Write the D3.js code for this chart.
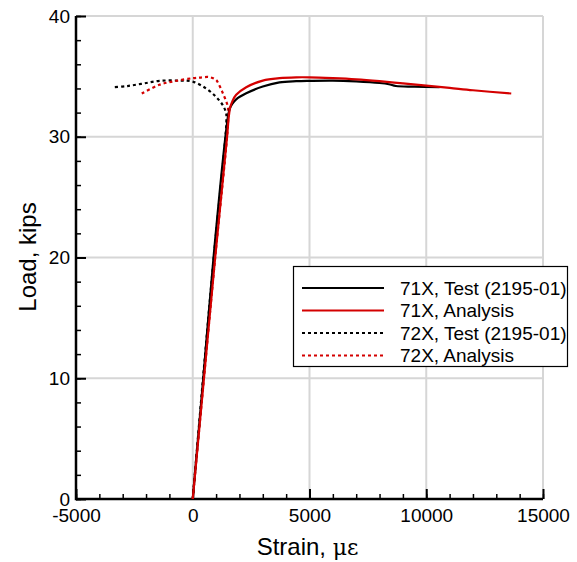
<!DOCTYPE html>
<html><head><meta charset="utf-8">
<script src="https://cdn.jsdelivr.net/npm/d3@7"></script>
<style>body{margin:0;background:#fff}svg{display:block}text{font-family:"Liberation Sans",Arial,sans-serif}</style>
</head><body>
<svg id="c" width="577" height="562"></svg>
<script>
const xTicks = [-5000, 0, 5000, 10000, 15000];
const yTicks = [0, 10, 20, 30, 40];
const seriesNames = ["71X, Test (2195-01)", "71X, Analysis", "72X, Test (2195-01)", "72X, Analysis"];
const test71Strain = [0, 450, 890, 1400, 1530, 1600, 1700, 1860, 2290, 3000, 3714, 4430, 5000, 6000, 7000, 8000, 8400, 8700, 9500, 10570];
const test71Load   = [0, 10, 20, 30, 31.9, 32.4, 32.75, 33.1, 33.6, 34.16, 34.5, 34.6, 34.63, 34.65, 34.58, 34.45, 34.35, 34.2, 34.15, 34.1];
const ana71Strain = [0, 480, 960, 1470, 1540, 1600, 1700, 1860, 2290, 3000, 3714, 4430, 5000, 6000, 7000, 8000, 9000, 10000, 11000, 12000, 13640];
const ana71Load   = [0, 10, 20, 30, 31.6, 32.4, 32.95, 33.47, 34.1, 34.65, 34.85, 34.92, 34.92, 34.85, 34.75, 34.6, 34.42, 34.24, 34.05, 33.85, 33.58];
const test72Strain = [0, 440, 900, 1400, 1440, 1430, 1290, 1000, 570, 0, -570, -1430, -2140, -2800, -3355];
const test72Load   = [0, 10, 20, 30, 31.3, 31.95, 32.6, 33.3, 34.0, 34.57, 34.65, 34.63, 34.4, 34.2, 34.1];
const ana72Strain = [0, 480, 960, 1470, 1520, 1500, 1290, 1100, 1000, 710, 300, 0, -710, -1430, -2210];
const ana72Load   = [0, 10, 20, 30, 31.6, 32.5, 33.6, 34.4, 34.7, 34.94, 34.9, 34.85, 34.63, 34.3, 33.55];

const W = 577, H = 562, m = {l: 76, r: 34, t: 16, b: 63};
const svg = d3.select("#c");
const x = d3.scaleLinear().domain([-5000, 15000]).range([m.l, W - m.r]);
const y = d3.scaleLinear().domain([0, 40]).range([H - m.b, m.t]);

// grid
const g = svg.append("g");
g.selectAll(".gx").data(xTicks.slice(1)).join("line")
  .attr("x1", d => x(d)).attr("x2", d => x(d)).attr("y1", y(0)).attr("y2", y(40))
  .attr("stroke", "#d6d6d6").attr("stroke-width", 2);
g.selectAll(".gy").data(yTicks.slice(1)).join("line")
  .attr("y1", d => y(d)).attr("y2", d => y(d)).attr("x1", x(-5000)).attr("x2", x(15000))
  .attr("stroke", "#d6d6d6").attr("stroke-width", 2);

// axes (ticks inward)
const fmt = d => String(d);
const xMinor = d3.range(-5000, 15001, 1000);
const yMinor = d3.range(0, 40.01, 2);
const ax = svg.append("g").attr("transform", `translate(0,${y(0)})`)
  .call(d3.axisBottom(x).tickValues(xMinor).tickSize(-5).tickFormat(""));
ax.select(".domain").remove();
ax.selectAll("line").attr("stroke-width", 1.5);
const ax2 = svg.append("g").attr("transform", `translate(0,${y(0)})`)
  .call(d3.axisBottom(x).tickValues(xTicks).tickSize(-10).tickPadding(10).tickFormat(fmt));
ax2.select(".domain").remove();
ax2.selectAll("line").attr("stroke-width", 2);
ax2.selectAll("text").attr("font-size", 19).attr("fill", "#000").attr("font-family", "Liberation Sans, Arial, sans-serif");
const ay = svg.append("g").attr("transform", `translate(${x(-5000)},0)`)
  .call(d3.axisLeft(y).tickValues(yMinor).tickSize(-5).tickFormat(""));
ay.select(".domain").remove();
ay.selectAll("line").attr("stroke-width", 1.5);
const ay2 = svg.append("g").attr("transform", `translate(${x(-5000)},0)`)
  .call(d3.axisLeft(y).tickValues(yTicks).tickSize(-10).tickPadding(6).tickFormat(fmt));
ay2.select(".domain").remove();
ay2.selectAll("line").attr("stroke-width", 2);
ay2.selectAll("text").attr("font-size", 19).attr("fill", "#000").attr("font-family", "Liberation Sans, Arial, sans-serif");

svg.append("line").attr("x1", x(-5000)).attr("x2", x(15000)).attr("y1", y(0)).attr("y2", y(0)).attr("stroke", "#000").attr("stroke-width", 2.5);
svg.append("line").attr("x1", x(-5000)).attr("x2", x(-5000)).attr("y1", y(0)+1.25).attr("y2", y(40)).attr("stroke", "#000").attr("stroke-width", 2.5);

// series
const line = d3.line().x(d => x(d[0])).y(d => y(d[1])).curve(d3.curveCatmullRom.alpha(0.5));
const zip = (a, b) => a.map((v, i) => [v, b[i]]);
const series = [
  {name: seriesNames[2], pts: zip(test72Strain, test72Load), color: "#000", dash: "3,3"},
  {name: seriesNames[3], pts: zip(ana72Strain, ana72Load), color: "#d40000", dash: "3,3"},
  {name: seriesNames[0], pts: zip(test71Strain, test71Load), color: "#000", dash: null},
  {name: seriesNames[1], pts: zip(ana71Strain, ana71Load), color: "#d40000", dash: null},
];
svg.append("g").selectAll("path").data(series).join("path")
  .attr("d", d => line(d.pts)).attr("fill", "none")
  .attr("stroke", d => d.color).attr("stroke-width", 2.2)
  .attr("stroke-dasharray", d => d.dash).attr("stroke-linejoin", "round");

// legend
const lg = svg.append("g");
lg.append("rect").attr("x", 293.5).attr("y", 266.5).attr("width", 274).attr("height", 100)
  .attr("fill", "#fff").attr("stroke", "#000").attr("stroke-width", 1.2);
const legItems = [series[2], series[3], series[0], series[1]];
legItems.forEach((s, i) => {
  const yy = 288 + i * 22.5;
  lg.append("line").attr("x1", 302).attr("x2", 384).attr("y1", yy).attr("y2", yy)
    .attr("stroke", s.color).attr("stroke-width", 2.2).attr("stroke-dasharray", s.dash);
  lg.append("text").attr("x", 400).attr("y", yy).attr("dy", "0.35em")
    .attr("font-size", 19).text(s.name);
});

// axis titles
svg.append("text").attr("x", (x(-5000) + x(15000)) / 2 - 2).attr("y", 555)
  .attr("text-anchor", "middle").attr("font-size", 24)
  .text("Strain, ").append("tspan").attr("font-family", "DejaVu Serif, serif").attr("font-size", 22).text("με");
svg.append("text").attr("transform", `translate(36,257) rotate(-90)`)
  .attr("text-anchor", "middle").attr("font-size", 24).text("Load, kips");
</script>
</body></html>
